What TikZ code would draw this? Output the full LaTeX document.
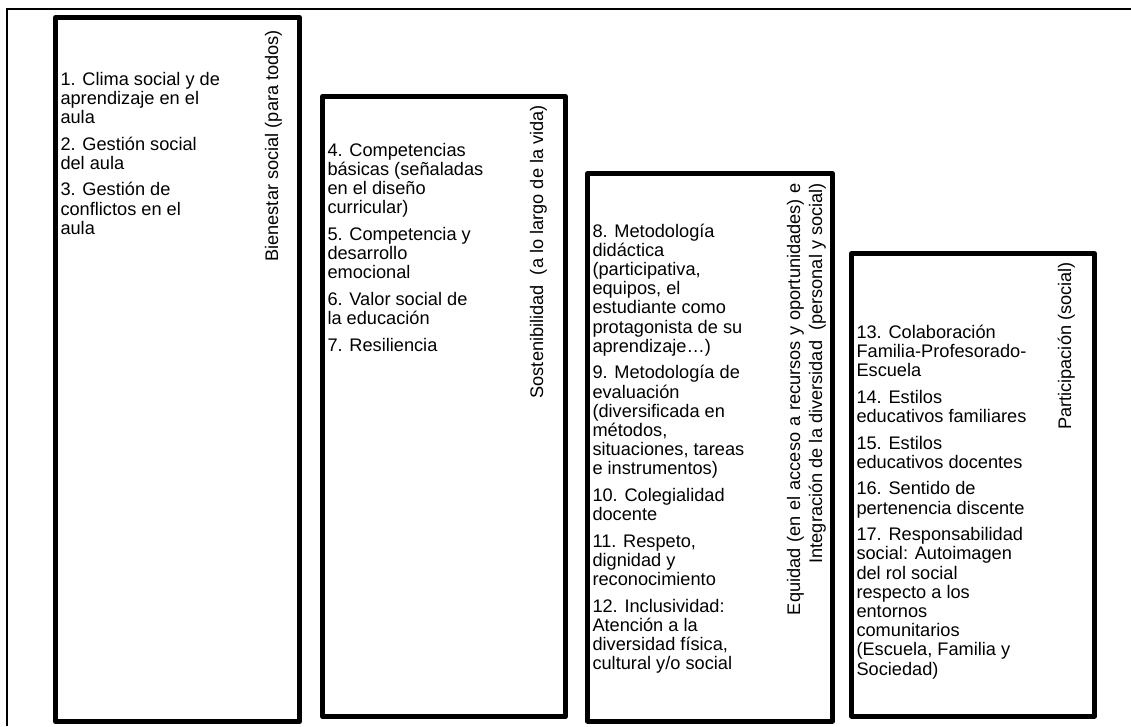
\documentclass[tikz,border=0pt]{standalone}
\usepackage{fontspec}
\setmainfont{Liberation Sans}
\newcommand{\pgap}{\\[5.55pt]}
\newcommand{\fl}{\rule{0pt}{11.25pt}}
\tikzset{
  pillar/.style={draw=black, line width=3.75pt, line join=round},
  frameline/.style={draw=black, line width=1.1pt},
  items/.style={anchor=north west, inner sep=0pt, outer sep=0pt, align=left,
    font=\fontsize{13.65pt}{14.4pt}\selectfont},
  vlabel/.style={rotate=90, anchor=base east, inner sep=0pt, outer sep=0pt,
    font=\fontsize{13.65pt}{14.4pt}\selectfont}
}
\begin{document}
\begin{tikzpicture}[x=0.75pt, y=-0.75pt]
\useasboundingbox (0,0) rectangle (1131,726);
% outer frame
\draw[frameline] (1131,9) -- (7,9) -- (7,726);
% pillars
\draw[pillar] (55.5,17.5) rectangle (299.5,721.5);
\draw[pillar] (322.5,96.5) rectangle (565.5,716.5);
\draw[pillar] (587.5,173.5) rectangle (832.5,721);
\draw[pillar] (851.5,253.5) rectangle (1094.5,716);
% item texts
\node[items] (t1) at (60.5,70) {\fl 1. Clima social y de\\aprendizaje en el\\aula\pgap
2. Gestión social\\del aula\pgap
3. Gestión de\\conflictos en el\\aula};
\node[items] (t2) at (327.5,141) {\fl 4. Competencias\\básicas (señaladas\\en el diseño\\curricular)\pgap
5. Competencia y\\desarrollo\\emocional\pgap
6. Valor social de\\la educación\pgap
7. Resiliencia};
\node[items] (t3) at (592.5,222) {\fl 8. Metodología\\didáctica\\(participativa,\\equipos, el\\estudiante como\\protagonista de su\\aprendizaje…)\pgap
9. Metodología de\\evaluación\\(diversificada en\\métodos,\\situaciones, tareas\\e instrumentos)\pgap
10. Colegialidad\\docente\pgap
11. Respeto,\\dignidad y\\reconocimiento\pgap
12. Inclusividad:\\Atención a la\\diversidad física,\\cultural y/o social};
\node[items] (t4) at (856.5,323.3) {\fl 13. Colaboración\\Familia-Profesorado-\\Escuela\pgap
14. Estilos\\educativos familiares\pgap
15. Estilos\\educativos docentes\pgap
16. Sentido de\\pertenencia discente\pgap
17. Responsabilidad\\social: Autoimagen\\del rol social\\respecto a los\\entornos\\comunitarios\\(Escuela, Familia y\\Sociedad)};
% vertical labels
\node[vlabel] (l1) at (278,30) {Bienestar social (para todos)};
\node[vlabel] (l2) at (543,105) {Sostenibilidad\ \ (a lo largo de la vida)};
\node[vlabel] (l3a) at (800,183) {\makebox[324pt][s]{Equidad (en el acceso a recursos y oportunidades) e}};
\node[vlabel] (l3b) at (822,183) {Integración de la diversidad\ \ (personal y social)};
\node[vlabel] (l4) at (1071,262) {Participación (social)};
\end{tikzpicture}
\end{document}
